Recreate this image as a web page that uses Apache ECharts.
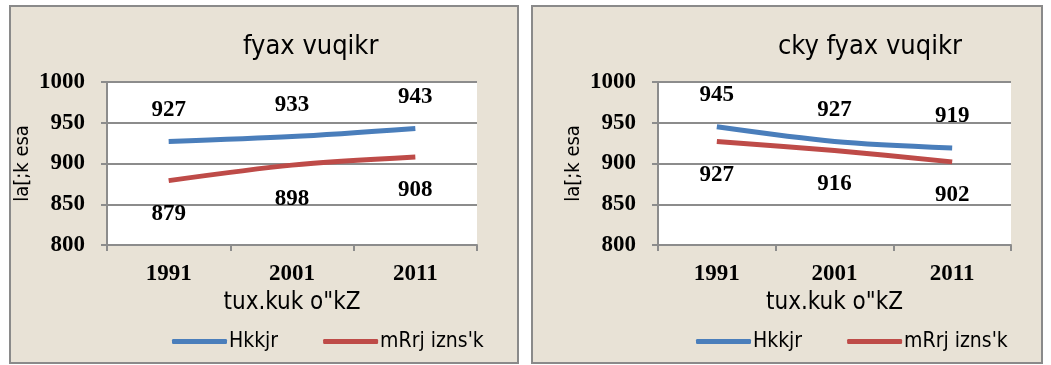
<!DOCTYPE html>
<html>
<head>
<meta charset="utf-8">
<script src="https://cdn.jsdelivr.net/npm/echarts@6/dist/echarts.min.js"></script>
<style>
  html, body { margin: 0; padding: 0; background: #ffffff; }
  #chart { width: 1051px; height: 365px; }
</style>
</head>
<body>
<div id="chart"></div>
<script>
// census years
var years = ['1991', '2001', '2011'];
// sex ratio (left panel)
var sexRatioIndia = [927, 933, 943];
var sexRatioUP = [879, 898, 908];
// child sex ratio (right panel)
var childRatioIndia = [945, 927, 919];
var childRatioUP = [927, 916, 902];

var titles = ['fyax vuqikr', 'cky fyax vuqikr'];
var seriesNames = ['Hkkjr', 'mRrj izns\'k'];
var xName = 'tux.kuk o"kZ';
var yName = 'la[;k esa';

var blue = '#4a7ebb';
var red = '#be4b48';
var gray = '#8c8c8c';
var serif = '"Liberation Serif", "Times New Roman", serif';
var narrow = '"Liberation Sans Narrow", "DejaVu Sans Condensed", sans-serif';

var chart = echarts.init(document.getElementById('chart'));

function xAxis(gridIndex) {
  return {
    type: 'category',
    gridIndex: gridIndex,
    data: years,
    boundaryGap: true,
    axisLine: { lineStyle: { color: gray, width: 2 } },
    axisTick: { show: true, length: 6, lineStyle: { color: gray, width: 2 }, interval: 0 },
    axisLabel: { margin: 18, color: '#000', fontFamily: serif, fontWeight: 'bold', fontSize: 23 },
    name: xName,
    nameLocation: 'middle',
    nameGap: 46,
    nameTextStyle: { color: '#000', fontFamily: narrow, fontSize: 24 }
  };
}

function yAxis(gridIndex) {
  return {
    type: 'value',
    gridIndex: gridIndex,
    min: 800,
    max: 1000,
    interval: 50,
    axisLine: { show: true, lineStyle: { color: gray, width: 2 } },
    axisTick: { show: true, length: 6, lineStyle: { color: gray, width: 2 } },
    splitLine: { lineStyle: { color: gray, width: 2 } },
    axisLabel: {
      margin: 22, color: '#000', fontFamily: serif, fontWeight: 'bold', fontSize: 23,
      formatter: function (v) { return String(v); }
    },
    name: yName,
    nameLocation: 'middle',
    nameGap: 74,
    nameTextStyle: { color: '#000', fontFamily: narrow, fontSize: 20 }
  };
}

function line(name, data, color, idx, pos) {
  return {
    name: name,
    type: 'line',
    xAxisIndex: idx,
    yAxisIndex: idx,
    data: data,
    smooth: 0.3,
    showSymbol: true,
    symbol: 'circle',
    symbolSize: 0.1,
    lineStyle: { color: color, width: 5 },
    itemStyle: { color: color },
    label: {
      show: true,
      position: pos,
      distance: pos === 'top' ? 20 : 22,
      color: '#000',
      fontFamily: serif,
      fontWeight: 'bold',
      fontSize: 23
    },
    emphasis: { disabled: true }
  };
}

function legend(left) {
  return {
    left: left,
    top: 326,
    itemWidth: 55,
    itemHeight: 5,
    itemGap: 45,
    icon: 'roundRect',
    textStyle: { color: '#000', fontFamily: narrow, fontSize: 21, padding: [0, 0, 0, -3] },
    data: seriesNames
  };
}

var option = {
  backgroundColor: '#ffffff',
  animation: false,
  graphic: [
    { type: 'rect', shape: { x: 10, y: 6, width: 508, height: 357 },
      style: { fill: '#e8e2d6', stroke: '#8a8a8a', lineWidth: 2 }, z: -10 },
    { type: 'rect', shape: { x: 532, y: 6, width: 510, height: 357 },
      style: { fill: '#e8e2d6', stroke: '#8a8a8a', lineWidth: 2 }, z: -10 }
  ],
  title: [
    { text: titles[0], left: 238, top: 28,
      textStyle: { color: '#000', fontFamily: narrow, fontSize: 27, fontWeight: 'normal' } },
    { text: titles[1], left: 773, top: 28,
      textStyle: { color: '#000', fontFamily: narrow, fontSize: 27, fontWeight: 'normal' } }
  ],
  legend: [legend(167), legend(691)],
  grid: [
    { left: 107, top: 82, width: 370, height: 163, show: true, backgroundColor: '#ffffff', borderWidth: 0 },
    { left: 658, top: 82, width: 353, height: 163, show: true, backgroundColor: '#ffffff', borderWidth: 0 }
  ],
  xAxis: [xAxis(0), xAxis(1)],
  yAxis: [yAxis(0), yAxis(1)],
  series: [
    line(seriesNames[0], sexRatioIndia, blue, 0, 'top'),
    line(seriesNames[1], sexRatioUP, red, 0, 'bottom'),
    line(seriesNames[0], childRatioIndia, blue, 1, 'top'),
    line(seriesNames[1], childRatioUP, red, 1, 'bottom')
  ]
};

chart.setOption(option);
</script>
</body>
</html>
